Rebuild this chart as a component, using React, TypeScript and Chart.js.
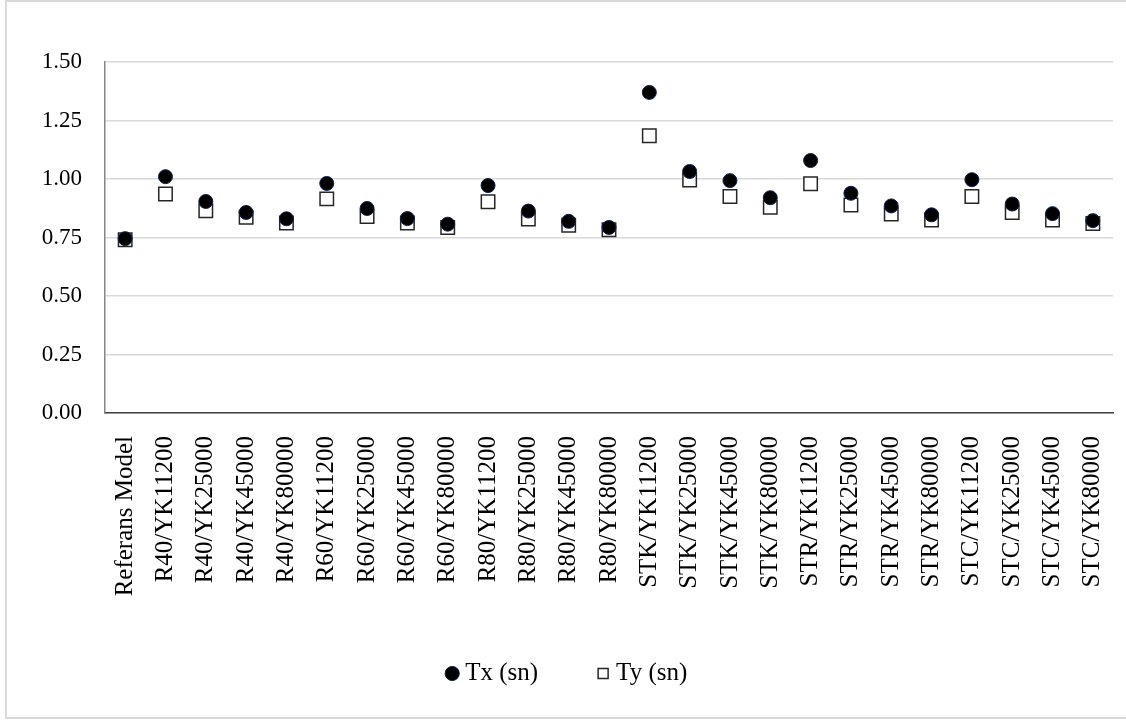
import React, { useEffect, useRef } from "react";
import { Chart, registerables } from "chart.js";

Chart.register(...registerables);

const categories = [
  "Referans Model",
  "R40/YK11200", "R40/YK25000", "R40/YK45000", "R40/YK80000",
  "R60/YK11200", "R60/YK25000", "R60/YK45000", "R60/YK80000",
  "R80/YK11200", "R80/YK25000", "R80/YK45000", "R80/YK80000",
  "STK/YK11200", "STK/YK25000", "STK/YK45000", "STK/YK80000",
  "STR/YK11200", "STR/YK25000", "STR/YK45000", "STR/YK80000",
  "STC/YK11200", "STC/YK25000", "STC/YK45000", "STC/YK80000",
];

const txValues = [
  0.745, 1.010, 0.904, 0.857, 0.830, 0.981, 0.874, 0.831, 0.807,
  0.972, 0.863, 0.819, 0.793, 1.370, 1.032, 0.993, 0.920,
  1.079, 0.939, 0.885, 0.847, 0.997, 0.893, 0.852, 0.822,
];

const tyValues = [
  0.740, 0.936, 0.864, 0.836, 0.812, 0.915, 0.840, 0.812, 0.793,
  0.903, 0.829, 0.802, 0.783, 1.185, 0.996, 0.925, 0.879,
  0.980, 0.889, 0.850, 0.825, 0.925, 0.857, 0.825, 0.810,
];

const yTickMin = 0;
const yTickMax = 1.5;
const yTickStep = 0.25;

const FONT = "'Liberation Serif', 'Times New Roman', serif";

const framePlugin = {
  id: "frame",
  beforeDraw(chart: any) {
    const ctx = chart.ctx;
    ctx.save();
    ctx.fillStyle = "#ffffff";
    ctx.fillRect(0, 0, chart.width, chart.height);
    ctx.strokeStyle = "#d9d9d9";
    ctx.lineWidth = 2;
    ctx.strokeRect(6, 1, 1200, 717);
    ctx.restore();
  },
};

const legendShiftPlugin = {
  id: "legendShift",
  afterLayout(chart: any) {
    const l = chart.legend;
    if (l) {
      l.left += 13;
      l.right += 13;
    }
  },
};

export default function App() {
  const ref = useRef<HTMLCanvasElement>(null);

  useEffect(() => {
    if (!ref.current) return;
    const chart = new Chart(ref.current, {
      type: "line",
      data: {
        labels: categories,
        datasets: [
          {
            label: "Tx (sn)",
            data: txValues,
            showLine: false,
            pointStyle: "circle",
            pointRadius: 7,
            pointHoverRadius: 7,
            backgroundColor: "#000000",
            borderColor: "#0e2150",
            pointBackgroundColor: "#000000",
            pointBorderColor: "#0e2150",
            borderWidth: 1,
            pointBorderWidth: 1,
          },
          {
            label: "Ty (sn)",
            data: tyValues,
            showLine: false,
            pointStyle: "rect",
            pointRadius: 9.5,
            pointHoverRadius: 9.5,
            backgroundColor: "#ffffff",
            borderColor: "#262626",
            pointBackgroundColor: "#ffffff",
            pointBorderColor: "#262626",
            borderWidth: 1.5,
            pointBorderWidth: 1.5,
          },
        ],
      },
      options: {
        responsive: false,
        animation: false,
        layout: { padding: { top: 62, left: 0, right: 13, bottom: 24 } },
        plugins: {
          tooltip: { enabled: false },
          legend: {
            position: "bottom",
            labels: {
              usePointStyle: true,
              boxWidth: 1,
              boxHeight: 10,
              padding: 64.5,
              color: "#000000",
              font: { family: FONT, size: 25 },
            },
          },
        },
        scales: {
          x: {
            offset: true,
            grid: { display: false, drawTicks: false },
            border: { display: true, color: "#404040", width: 1.5 },
            ticks: {
              autoSkip: false,
              maxRotation: 90,
              minRotation: 90,
              padding: 23,
              color: "#000000",
              font: { family: FONT, size: 25 },
            },
            afterFit(scale: any) {
              scale.height = 183.5;
              scale.paddingLeft = 0;
              scale.paddingRight = 0;
            },
          },
          y: {
            min: yTickMin,
            max: yTickMax,
            grid: { color: "#d9d9d9", lineWidth: 1.5, drawTicks: false },
            border: { display: true, color: "#868686", width: 1.5 },
            ticks: {
              stepSize: yTickStep,
              padding: 23,
              color: "#000000",
              font: { family: FONT, size: 23 },
              callback: (v: any) => Number(v).toFixed(2),
            },
            afterFit(scale: any) {
              scale.width = 105;
            },
          },
        },
      },
      plugins: [framePlugin, legendShiftPlugin],
    });
    return () => chart.destroy();
  }, []);

  return (
    <div style={{ position: "absolute", left: 0, top: 0, width: 1126, height: 720 }}>
      <canvas ref={ref} width={1126} height={720} style={{ display: "block" }} />
    </div>
  );
}
